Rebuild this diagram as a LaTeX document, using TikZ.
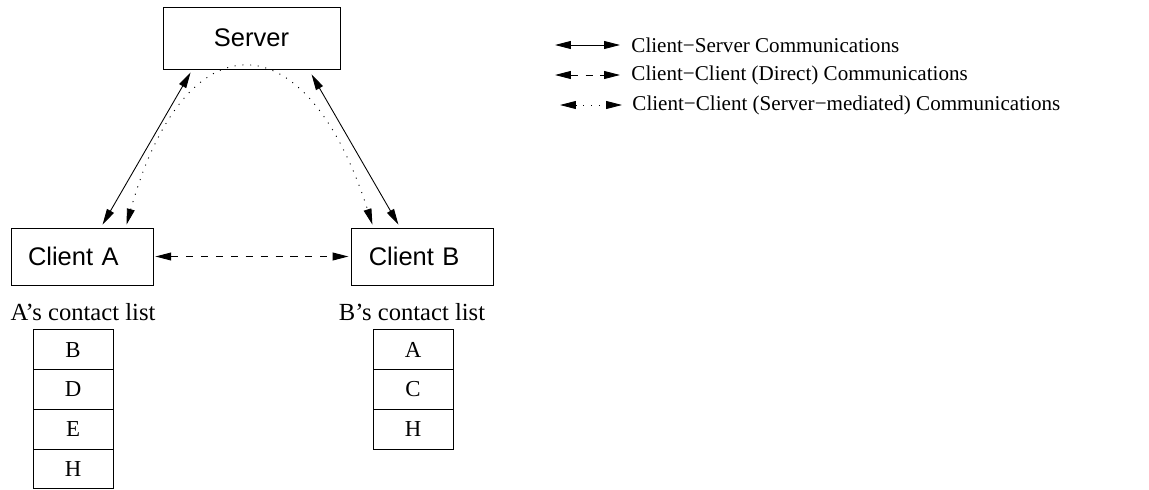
\documentclass[tikz,border=0pt]{standalone}
\usepackage{fontspec}
\setmainfont{Liberation Serif}
\newfontfamily\sansf{Liberation Sans}
\usetikzlibrary{positioning, arrows.meta, calc}

\begin{document}
\begin{tikzpicture}[x=0.02cm, y=-0.02cm, line width=0.5pt,
	>={Triangle[length=9pt, width=4.5pt]},
	box/.style={draw, font=\sansf\fontsize{14.5}{17}\selectfont},
	client/.style={box, text width=2.16cm, inner xsep=0.34cm, align=left, minimum height=1.14cm},
	cell/.style={draw, minimum width=1.6cm, minimum height=0.795cm, outer sep=0pt, inner sep=0pt, font=\fontsize{13}{15}\selectfont},
	listname/.style={font=\fontsize{14}{16}\selectfont},
	legend/.style={anchor=west, inner sep=0pt, font=\fontsize{12}{14}\selectfont},
	dots/.style={dash pattern=on 0.6pt off 3.8pt},
	dash line/.style={dash pattern=on 4pt off 4.5pt}]
	\useasboundingbox (0,0) rectangle (1149,490);

	\node[box, minimum width=3.54cm, minimum height=1.24cm] (sv) at (251.5,38) {Server};
	\node[client] (ca) at (82,256.5) {Client A};
	\node[client, right=3.96cm of ca] (cb) {Client B};

	\draw [<->]
		($(sv.south west)+(28,3)$) -- ($(ca.north west)+(92,-3)$);
	\draw [<->]
		($(sv.south west)+(149,5)$) -- ($(cb.north west)+(47,-3)$);
	\draw [<->, dots]
		($(ca.north west)+(116,-3)$) .. controls +(58,-208) and +(-67,-208) .. ($(cb.north west)+(21,-3)$);
	\draw [<->, dash line]
		($(ca.east)+(2,0)$) -- ($(cb.west)+(-3,0)$);

	\node[listname] (al) at (83,312) {A’s contact list};
	\node[cell] (a1) at (73,349.75) {B};
	\node[cell, below=0pt of a1] (a2) {D};
	\node[cell, below=0pt of a2] (a3) {E};
	\node[cell, below=0pt of a3] (a4) {H};

	\node[listname] (bl) at (412,312) {B’s contact list};
	\node[cell] (b1) at (413,349.75) {A};
	\node[cell, below=0pt of b1] (b2) {C};
	\node[cell, below=0pt of b2] (b3) {H};

	\node[legend] (lg1) at (631,45) {Client−Server Communications};
	\node[legend] (lg2) at (631,75) {Client−Client (Direct) Communications};
	\node[legend] (lg3) at (632,105) {Client−Client (Server−mediated) Communications};
	\coordinate (s1) at (555,45);
	\coordinate (s2) at (555,75);
	\coordinate (s3) at (560,105);
	\draw [<->] (s1) -- ($(lg1.west)+(-11,0)$);
	\draw [<->, dash line] (s2) -- ($(lg2.west)+(-11,0)$);
	\draw [<->, dots] (s3) -- ($(lg3.west)+(-10,0)$);
\end{tikzpicture}
\end{document}
